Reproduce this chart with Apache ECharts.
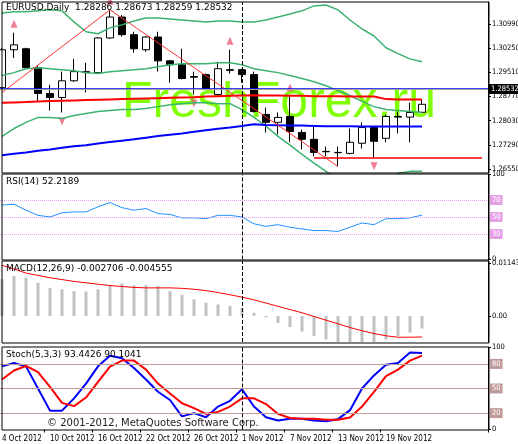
<!DOCTYPE html>
<html>
<head>
<meta charset="utf-8">
<script src="https://cdn.jsdelivr.net/npm/echarts@6/dist/echarts.min.js"></script>
<style>html,body{margin:0;padding:0;background:#fff}#c{width:518px;height:444px}</style>
</head>
<body>
<div id="c"></div>
<script>
var dates = ['4 Oct 2012','5 Oct 2012','8 Oct 2012','9 Oct 2012','10 Oct 2012','11 Oct 2012','12 Oct 2012','15 Oct 2012','16 Oct 2012','17 Oct 2012','18 Oct 2012','19 Oct 2012','22 Oct 2012','23 Oct 2012','24 Oct 2012','25 Oct 2012','26 Oct 2012','29 Oct 2012','30 Oct 2012','31 Oct 2012','1 Nov 2012','2 Nov 2012','5 Nov 2012','6 Nov 2012','7 Nov 2012','8 Nov 2012','9 Nov 2012','12 Nov 2012','13 Nov 2012','14 Nov 2012','15 Nov 2012','16 Nov 2012','19 Nov 2012','20 Nov 2012','21 Nov 2012','22 Nov 2012'];
var emptySlots = ['','','','',''];
var categories = dates.concat(emptySlots);

// [open, close, low, high]
var ohlc = [
  [1.2904,1.3020,1.2898,1.3026],[1.3020,1.3035,1.2995,1.3072],[1.3023,1.2965,1.2962,1.3026],[1.2965,1.2886,1.2862,1.2971],
  [1.2886,1.2874,1.2834,1.2913],[1.2874,1.2925,1.2828,1.2953],[1.2925,1.2953,1.2922,1.2992],[1.2953,1.2950,1.2889,1.2980],
  [1.2950,1.3056,1.2947,1.3059],[1.3056,1.3120,1.3053,1.3142],[1.3120,1.3066,1.3060,1.3126],[1.3066,1.3023,1.3011,1.3075],
  [1.3020,1.3059,1.3014,1.3062],[1.3059,1.2986,1.2953,1.3075],[1.2986,1.2974,1.2919,1.2989],[1.2974,1.2932,1.2929,1.3023],
  [1.2938,1.2936,1.2883,1.2953],[1.2944,1.2901,1.2898,1.2947],[1.2883,1.2962,1.2880,1.2983],[1.2959,1.2957,1.2947,1.3020],
  [1.2959,1.2944,1.2919,1.2962],[1.2944,1.2831,1.2828,1.2953],[1.2822,1.2798,1.2767,1.2843],[1.2798,1.2813,1.2761,1.2828],
  [1.2816,1.2770,1.2737,1.2877],[1.2767,1.2746,1.2715,1.2776],[1.2746,1.2706,1.2694,1.2786],[1.2709,1.2708,1.2694,1.2724],
  [1.2706,1.2705,1.2663,1.2724],[1.2703,1.2737,1.2700,1.2779],[1.2734,1.2782,1.2718,1.2798],[1.2782,1.2740,1.2691,1.2785],
  [1.2749,1.2816,1.2737,1.2822],[1.2816,1.2814,1.2764,1.2831],[1.2814,1.2828,1.2737,1.2858],[1.28286,1.28532,1.28259,1.28673]
];
var bbUpper = [1.3132,1.3136,1.3136,1.3139,1.3142,1.3139,1.3105,1.3075,1.3069,1.3087,1.3096,1.3108,1.3117,1.3117,1.3114,1.3111,1.3108,1.3105,1.3108,1.3108,1.3105,1.3105,1.3111,1.3120,1.3129,1.3139,1.3154,1.3157,1.3142,1.3111,1.3084,1.3062,1.3026,1.3008,1.2992,1.2983];
var bbMiddle = [1.2941,1.2950,1.2962,1.2965,1.2962,1.2959,1.2956,1.2950,1.2947,1.2953,1.2956,1.2959,1.2962,1.2968,1.2974,1.2977,1.2977,1.2977,1.2980,1.2980,1.2974,1.2962,1.2956,1.2950,1.2941,1.2932,1.2922,1.2910,1.2895,1.2880,1.2862,1.2846,1.2837,1.2834,1.2831,1.2828];
var bbLower = [1.2755,1.2779,1.2798,1.2813,1.2813,1.2810,1.2819,1.2825,1.2831,1.2834,1.2837,1.2837,1.2840,1.2846,1.2852,1.2855,1.2858,1.2858,1.2855,1.2855,1.2837,1.2813,1.2786,1.2755,1.2728,1.2700,1.2673,1.2648,1.2624,1.2606,1.2600,1.2606,1.2624,1.2642,1.2648,1.2648];
var maBlue = [1.2697,1.2702,1.2706,1.2711,1.2715,1.2720,1.2725,1.2728,1.2733,1.2738,1.2742,1.2746,1.2751,1.2756,1.2760,1.2764,1.2769,1.2774,1.2778,1.2782,1.2787,1.2792,1.2790,1.2789,1.2788,1.2788,1.2787,1.2786,1.2786,1.2786,1.2785,1.2785,1.2785,1.2785,1.2785,1.2785];
var maRed = [1.2858,1.2859,1.2860,1.2862,1.2863,1.2864,1.2865,1.2866,1.2867,1.2868,1.2869,1.2870,1.2871,1.2872,1.2873,1.2874,1.2875,1.2877,1.2878,1.2879,1.2880,1.2881,1.2880,1.2880,1.2879,1.2879,1.2878,1.2878,1.2878,1.2877,1.2877,1.2877,1.2869,1.2868,1.2868,1.2868];
var zigzag = [1.2889,null,null,null,null,null,null,null,null,1.3142,null,null,null,null,null,null,null,null,null,null,null,null,null,null,null,null,null,null,1.2663];
var fractalUp = [1, 9, 19, 24];
var fractalDown = [5, 16, 31];
var priceTicks = [1.2655,1.2729,1.2803,1.2877,1.2951,1.3025,1.3099];
var lastPrice = 1.28532;
var blueLevel = 1.2901;
var redLevel = 1.2691;

var rsi = [64,65,58,52,50,55,56,56,62,67,61,58,60,54,53,49,49,48,52,52,50,42,39,41,38,36,34,34,33,38,43,41,48,48,49,52.2189];
var rsiLevels = [30, 50, 70];

var macdHist = [0.0080,0.0087,0.0083,0.0072,0.0061,0.0058,0.0054,0.0053,0.0058,0.0067,0.0071,0.0067,0.0067,0.0065,0.0054,0.0046,0.0036,0.0029,0.0025,0.0022,0.0018,0.0007,-0.0003,-0.0015,-0.0024,-0.0034,-0.0043,-0.0051,-0.0056,-0.0058,-0.0058,-0.0056,-0.0051,-0.0043,-0.0036,-0.002706];
var macdSignal = [0.0110,0.0102,0.0093,0.0088,0.0083,0.0079,0.0075,0.0072,0.0069,0.0066,0.0064,0.0062,0.0061,0.0061,0.0061,0.0060,0.0058,0.0055,0.0051,0.0046,0.0041,0.0035,0.0028,0.0021,0.0014,0.0007,-0.0001,-0.0009,-0.0017,-0.0025,-0.0032,-0.0038,-0.0043,-0.0046,-0.0046,-0.004555];
var macdTicks = [-0.00636, 0, 0.011437];

var stochMain = [77,81,77,50,23,23,38,56,77,90,87,75,61,46,36,16,20,15,28,35,49,28,15,11,13,13,11,10,12.6,23.6,50,66,79,81,94,93.4426];
var stochSignal = [61,72,77.5,70,52,32.5,28.5,39,58,76.6,84,84,73,56,44,32,26,19,21.5,28,38,38,31,19,14,13,13,12,12,14.7,28,46,65,73,84,90.1041];
var stochLevels = [20, 50, 80];

var FONT = 'DejaVu Sans';
var AXFONT = 'DejaVu Sans Condensed';
var chart = echarts.init(document.getElementById('c'));

function dateShown(i) { return i % 4 === 0 && i < dates.length; }
function catAxis(grid, showLabels) {
  return {
    type: 'category', gridIndex: grid, data: categories, boundaryGap: true,
    axisLine: {show: false},
    axisTick: {show: showLabels, length: 3, interval: dateShown, lineStyle: {color: '#000'}},
    axisLabel: {show: showLabels, align: 'left', margin: 5, fontSize: 8, fontFamily: AXFONT, color: '#000',
      hideOverlap: false, showMinLabel: true, interval: dateShown}
  };
}
function valAxis(grid, min, max, ticks, fmt) {
  return {
    type: 'value', gridIndex: grid, position: 'right', min: min, max: max, scale: true,
    splitLine: {show: false},
    axisLine: {show: true, lineStyle: {color: '#000'}},
    axisTick: {show: true, length: 3, customValues: ticks, lineStyle: {color: '#000'}},
    axisLabel: {customValues: ticks, fontSize: 7.5, fontFamily: AXFONT, color: '#000', margin: 4, formatter: fmt}
  };
}
function gridAt(top, height) {
  return {left: -4, width: 492, top: top, height: height, outerBoundsMode: 'none', containLabel: false};
}
var separator = {symbol: 'none', silent: true, label: {show: false},
  lineStyle: {color: '#000', type: 'dashed', width: 1}, data: [{xAxis: '1 Nov 2012'}]};

function arrows(idxs, up) {
  return idxs.map(function (i) { return [i, up ? ohlc[i][3] : ohlc[i][2]]; });
}
function levelMarks(levels, color, type) {
  return {symbol: 'none', silent: true, lineStyle: {color: color, type: type, width: 1},
    label: {position: 'end', fontSize: 7.5, fontFamily: AXFONT, color: '#fff', backgroundColor: color, padding: [1, 2], distance: 2,
      formatter: function (p) { return String(p.value); }},
    data: levels.map(function (v) { return {yAxis: v}; }).concat([{xAxis: '1 Nov 2012', lineStyle: {color: '#000', type: 'dashed'}, label: {show: false}}])};
}

chart.setOption({
  animation: false,
  grid: [gridAt(2, 171), gridAt(174.5, 85), gridAt(261, 81), gridAt(347.5, 82)],
  xAxis: [catAxis(0, false), catAxis(1, false), catAxis(2, false), catAxis(3, true)],
  yAxis: [
    valAxis(0, 1.2643, 1.3166, priceTicks, function (v) { return v.toFixed(5); }),
    valAxis(1, 0, 100, [0, 100], function (v) { return String(v); }),
    valAxis(2, -0.00564, 0.01193, macdTicks, function (v) { return v === 0 ? '0.00' : String(v); }),
    valAxis(3, 0, 100, [0, 100], function (v) { return String(v); })
  ],
  graphic: [
    {type: 'text', left: 122, top: 78, zlevel: -1, silent: true,
      style: {text: 'FreshForex.ru', fontSize: 50, fontFamily: 'Liberation Sans', fill: '#80ff00'}},
    {type: 'rect', shape: {x: 2, y: 2, width: 487, height: 171}, style: {fill: 'none', stroke: '#000'}, z: 10},
    {type: 'rect', shape: {x: 2, y: 174, width: 487, height: 86}, style: {fill: 'none', stroke: '#000'}, z: 10},
    {type: 'rect', shape: {x: 2, y: 261, width: 487, height: 82}, style: {fill: 'none', stroke: '#000'}, z: 10},
    {type: 'rect', shape: {x: 2, y: 347, width: 487, height: 83}, style: {fill: 'none', stroke: '#000'}, z: 10},
    {type: 'text', left: 6, top: 3, z: 10, style: {text: 'EURUSD,Daily  1.28286 1.28673 1.28259 1.28532', fontSize: 9, fontFamily: FONT, fill: '#000'}},
    {type: 'text', left: 6, top: 177, z: 10, style: {text: 'RSI(14) 52.2189', fontSize: 9, fontFamily: FONT, fill: '#000'}},
    {type: 'text', left: 6, top: 264, z: 10, style: {text: 'MACD(12,26,9) -0.002706 -0.004555', fontSize: 9, fontFamily: FONT, fill: '#000'}},
    {type: 'text', left: 6, top: 350, z: 10, style: {text: 'Stoch(5,3,3) 93.4426 90.1041', fontSize: 9, fontFamily: FONT, fill: '#000'}},
    {type: 'text', left: 47, top: 418, z: 10, style: {text: '\u00a9 2001-2012, MetaQuotes Software Corp.', fontSize: 10, fontFamily: FONT, fill: '#222'}}
  ],
  series: [
    {type: 'line', xAxisIndex: 0, yAxisIndex: 0, data: bbUpper, symbol: 'none', lineStyle: {color: '#3cb371', width: 1.5}},
    {type: 'line', xAxisIndex: 0, yAxisIndex: 0, data: bbMiddle, symbol: 'none', lineStyle: {color: '#3cb371', width: 1.5}},
    {type: 'line', xAxisIndex: 0, yAxisIndex: 0, data: bbLower, symbol: 'none', lineStyle: {color: '#3cb371', width: 1.5}},
    {type: 'line', xAxisIndex: 0, yAxisIndex: 0, data: maBlue, symbol: 'none', lineStyle: {color: '#0000ff', width: 2}},
    {type: 'line', xAxisIndex: 0, yAxisIndex: 0, data: maRed, symbol: 'none', lineStyle: {color: '#ff0000', width: 2}},
    {type: 'line', xAxisIndex: 0, yAxisIndex: 0, data: zigzag, connectNulls: true, symbol: 'none', lineStyle: {color: '#ff3030', width: 1}},
    {type: 'candlestick', xAxisIndex: 0, yAxisIndex: 0, data: ohlc, barWidth: 7,
      itemStyle: {color: '#fff', color0: '#000', borderColor: '#000', borderColor0: '#000', borderWidth: 1},
      markLine: {symbol: 'none', silent: true, data: [
        {yAxis: blueLevel, lineStyle: {color: '#0000ff', width: 1.5, type: 'solid'}, label: {show: false}},
        [{coord: [26, redLevel]}, {coord: [40, redLevel]}],
        {yAxis: lastPrice, lineStyle: {color: '#a0a0a0', width: 1, type: 'solid'},
          label: {show: true, position: 'end', distance: 1, formatter: '1.28532', color: '#fff', backgroundColor: '#000',
            fontSize: 7.5, fontFamily: AXFONT, padding: [1, 2]}},
        {xAxis: '1 Nov 2012', lineStyle: {color: '#000', type: 'dashed', width: 1}, label: {show: false}}
      ], lineStyle: {color: '#ff0000', width: 1.5, type: 'solid'}, label: {show: false}}},
    {type: 'scatter', xAxisIndex: 0, yAxisIndex: 0, data: arrows(fractalUp, true), symbol: 'triangle', symbolSize: [7, 8],
      symbolOffset: [0, -9], itemStyle: {color: '#e8607c'}},
    {type: 'scatter', xAxisIndex: 0, yAxisIndex: 0, data: arrows(fractalDown, false), symbol: 'triangle', symbolRotate: 180,
      symbolSize: [7, 8], symbolOffset: [0, 9], itemStyle: {color: '#e8607c'}},

    {type: 'line', xAxisIndex: 1, yAxisIndex: 1, data: rsi, symbol: 'none', lineStyle: {color: '#1e90ff', width: 1},
      markLine: levelMarks(rsiLevels, '#e6a0e6', 'dotted')},

    {type: 'bar', xAxisIndex: 2, yAxisIndex: 2, data: macdHist, barWidth: 3, itemStyle: {color: '#c0c0c0'}, markLine: separator},
    {type: 'line', xAxisIndex: 2, yAxisIndex: 2, data: macdSignal, symbol: 'none', lineStyle: {color: '#ff0000', width: 1}},

    {type: 'line', xAxisIndex: 3, yAxisIndex: 3, data: stochMain, symbol: 'none', lineStyle: {color: '#0000ff', width: 2},
      markLine: levelMarks(stochLevels, '#c09a9a', 'solid')},
    {type: 'line', xAxisIndex: 3, yAxisIndex: 3, data: stochSignal, symbol: 'none', lineStyle: {color: '#ff0000', width: 2}}
  ]
});
</script>
</body>
</html>
